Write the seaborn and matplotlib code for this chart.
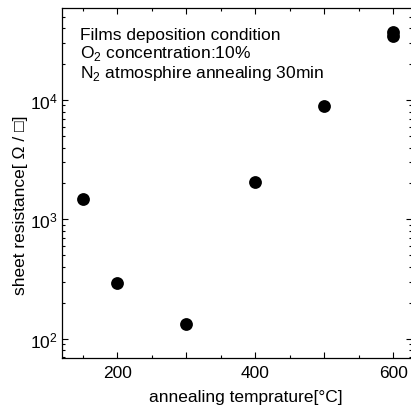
import matplotlib.pyplot as plt
import matplotlib.ticker as mticker
import seaborn as sns
import pandas as pd

# data
temperature = [150, 200, 300, 400, 500, 600, 600]
resistance = [1470, 294, 134, 2040, 8900, 37000, 34300]

df = pd.DataFrame({'temp': temperature, 'res': resistance})

sns.set_style('ticks', {'axes.edgecolor': 'black', 'text.color': 'black',
                        'axes.labelcolor': 'black', 'xtick.color': 'black',
                        'ytick.color': 'black'})
plt.rcParams['font.family'] = ['Liberation Sans', 'DejaVu Sans']
plt.rcParams['mathtext.fontset'] = 'custom'
plt.rcParams['mathtext.rm'] = 'Liberation Sans'

fig = plt.figure(figsize=(4.11, 4.10), dpi=100)
ax = fig.add_axes([62 / 411, 1 - 359 / 410, 350 / 411, 350 / 410])

sns.scatterplot(data=df, x='temp', y='res', color='black', s=85,
                edgecolor='black', linewidth=0, ax=ax)

ax.set_yscale('log')
ax.set_xlim(120, 627)
ax.set_ylim(69, 59000)

ax.xaxis.set_major_locator(mticker.MultipleLocator(100))
ax.xaxis.set_minor_locator(mticker.MultipleLocator(50))
ax.xaxis.set_major_formatter(
    mticker.FuncFormatter(lambda v, p: f'{int(v)}' if int(v) % 200 == 0 else ''))

ax.tick_params(which='both', direction='in', top=True, right=True,
               labelsize=12.5, width=0.8, pad=5)
ax.tick_params(axis='y', which='both', pad=3)
ax.tick_params(which='major', length=4)
ax.tick_params(which='minor', length=2.5)
for sp in ax.spines.values():
    sp.set_linewidth(0.9)

ax.set_xlabel('annealing temprature[°C]', fontsize=12.5)
ax.set_ylabel('sheet resistance[ Ω / □]', fontsize=12.5)
ax.xaxis.set_label_coords(0.526, -0.09)
ax.yaxis.set_label_coords(-0.097, 0.44)

ax.text(0.05, 0.945, 'Films deposition condition\n'
        'O$_2$ concentration:10%\n'
        'N$_2$ atmosphire annealing 30min',
        transform=ax.transAxes, fontsize=12.5, va='top', ha='left',
        linespacing=1.05)

fig.savefig('out.png', dpi=100)
